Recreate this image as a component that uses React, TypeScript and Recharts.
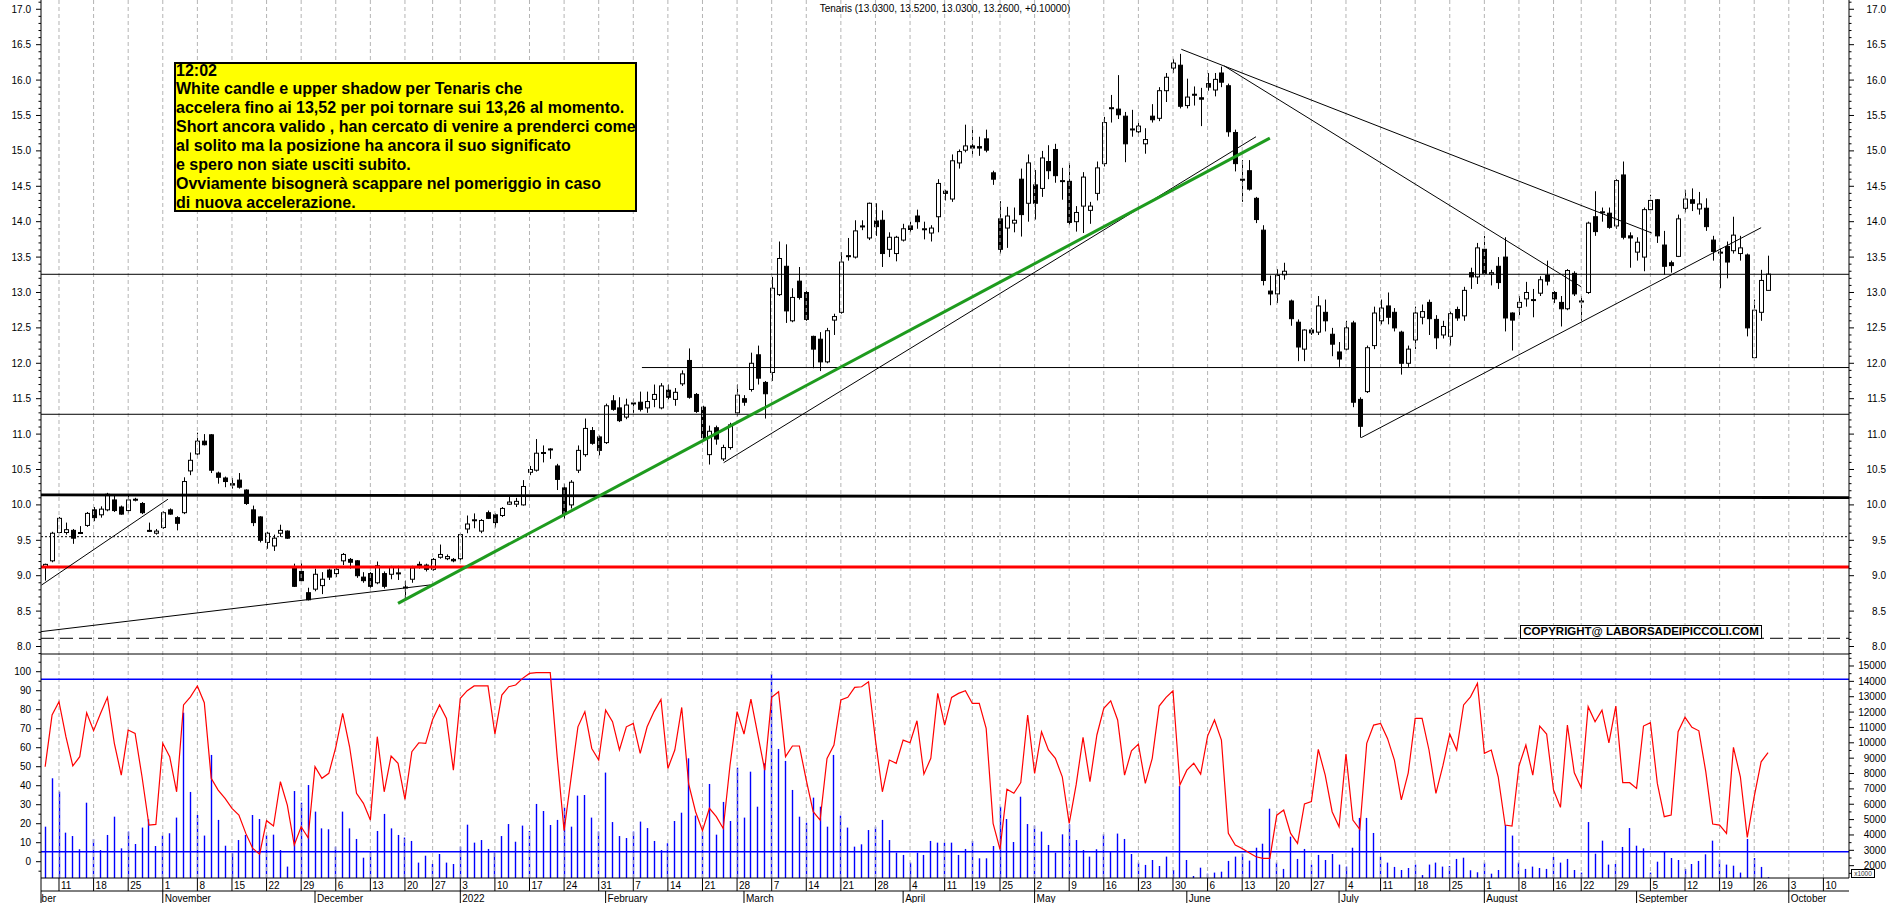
import React from "react";
import { ComposedChart, Bar, Line, XAxis, YAxis, ReferenceLine } from "recharts";

const FONT = '"Liberation Sans", Arial, Helvetica, sans-serif';

// one entry per trading day, 7 Oct 2021 .. 28 Sep 2022 : [open, high, low, close]
const candles: [number, number, number, number][] = [
  [9.12, 9.17, 8.93, 9.16], [9.21, 9.62, 9.19, 9.6], [9.61, 9.83, 9.6, 9.81], [9.61, 9.75, 9.58, 9.65], [9.64, 9.66, 9.45, 9.53],
  [9.6, 9.7, 9.59, 9.61], [9.71, 9.9, 9.69, 9.88], [9.93, 9.97, 9.77, 9.82], [9.86, 9.98, 9.82, 9.94], [9.93, 10.17, 9.91, 10.15],
  [10.07, 10.15, 9.9, 9.92], [9.97, 9.99, 9.86, 9.87], [9.92, 10.15, 9.88, 10.07], [10.07, 10.1, 10.05, 10.08], [10.02, 10.04, 9.87, 9.89],
  [9.64, 9.75, 9.62, 9.63], [9.6, 9.66, 9.58, 9.63], [9.68, 9.91, 9.66, 9.89], [9.93, 9.95, 9.86, 9.87], [9.82, 9.84, 9.64, 9.74],
  [9.89, 10.39, 9.87, 10.33], [10.48, 10.74, 10.42, 10.63], [10.72, 11.02, 10.66, 10.9], [10.9, 11.0, 10.84, 10.85], [10.99, 11.0, 10.45, 10.49],
  [10.45, 10.47, 10.3, 10.39], [10.38, 10.4, 10.25, 10.33], [10.3, 10.38, 10.23, 10.28], [10.35, 10.45, 10.23, 10.25], [10.21, 10.22, 10.0, 10.02],
  [9.93, 9.99, 9.7, 9.75], [9.83, 9.84, 9.47, 9.5], [9.47, 9.62, 9.38, 9.6], [9.42, 9.58, 9.35, 9.53], [9.6, 9.72, 9.55, 9.64],
  [9.63, 9.64, 9.52, 9.53], [9.12, 9.17, 8.84, 8.85], [9.06, 9.18, 8.92, 8.93], [8.76, 8.83, 8.65, 8.66], [8.81, 9.1, 8.78, 9.02],
  [8.86, 9.05, 8.74, 8.95], [9.08, 9.1, 8.94, 8.98], [9.03, 9.11, 8.98, 9.09], [9.21, 9.32, 9.15, 9.3], [9.23, 9.25, 9.1, 9.19],
  [9.21, 9.22, 8.97, 9.0], [8.98, 9.05, 8.9, 8.93], [9.03, 9.05, 8.83, 8.85], [8.9, 9.2, 8.88, 9.14], [9.03, 9.06, 8.82, 8.85],
  [9.02, 9.14, 8.95, 9.12], [9.03, 9.14, 8.94, 9.04], [8.83, 8.93, 8.66, 8.84], [8.95, 9.14, 8.9, 9.11], [9.16, 9.2, 9.1, 9.12],
  [9.15, 9.17, 9.06, 9.09], [9.09, 9.25, 9.07, 9.23], [9.26, 9.44, 9.24, 9.3], [9.24, 9.3, 9.22, 9.27], [9.23, 9.25, 9.19, 9.21],
  [9.24, 9.6, 9.2, 9.58], [9.66, 9.85, 9.6, 9.73], [9.78, 9.88, 9.67, 9.79], [9.63, 9.8, 9.6, 9.78], [9.89, 9.92, 9.8, 9.81],
  [9.86, 9.88, 9.68, 9.75], [9.85, 9.97, 9.83, 9.95], [10.01, 10.14, 10.0, 10.04], [10.01, 10.1, 9.97, 10.05], [10.0, 10.35, 9.99, 10.26],
  [10.46, 10.55, 10.42, 10.5], [10.49, 10.93, 10.47, 10.73], [10.73, 10.84, 10.6, 10.74], [10.78, 10.8, 10.65, 10.79], [10.55, 10.58, 10.21, 10.36],
  [10.24, 10.3, 9.8, 9.87], [10.0, 10.35, 9.95, 10.32], [10.49, 10.84, 10.45, 10.77], [10.71, 11.22, 10.68, 11.08], [11.05, 11.1, 10.85, 10.87],
  [10.96, 10.98, 10.7, 10.77], [10.88, 11.43, 10.86, 11.4], [11.47, 11.55, 11.33, 11.35], [11.37, 11.52, 11.17, 11.19], [11.24, 11.5, 11.21, 11.41],
  [11.43, 11.5, 11.3, 11.44], [11.45, 11.6, 11.32, 11.35], [11.37, 11.6, 11.3, 11.46], [11.49, 11.7, 11.38, 11.56], [11.37, 11.72, 11.35, 11.68],
  [11.62, 11.7, 11.49, 11.52], [11.49, 11.65, 11.4, 11.59], [11.71, 11.9, 11.68, 11.85], [12.04, 12.21, 11.5, 11.52], [11.56, 11.58, 11.3, 11.32],
  [11.38, 11.4, 10.92, 10.95], [10.71, 11.12, 10.57, 11.04], [11.09, 11.12, 10.85, 10.93], [10.65, 10.85, 10.62, 10.81], [10.81, 11.16, 10.78, 11.13],
  [11.3, 11.7, 11.25, 11.55], [11.5, 11.55, 11.4, 11.45], [11.63, 12.15, 11.6, 12.0], [12.12, 12.25, 11.7, 11.79], [11.73, 11.75, 11.22, 11.57],
  [11.87, 13.22, 11.75, 13.06], [12.97, 13.72, 12.95, 13.48], [13.37, 13.68, 12.57, 12.74], [12.6, 13.06, 12.58, 12.93], [13.16, 13.36, 12.9, 12.93],
  [13.0, 13.02, 12.6, 12.62], [12.38, 12.39, 11.93, 12.2], [12.34, 12.44, 11.89, 12.02], [12.02, 12.5, 12.0, 12.46], [12.61, 12.7, 12.4, 12.66],
  [12.72, 13.57, 12.7, 13.43], [13.52, 13.77, 13.45, 13.51], [13.5, 14.02, 13.48, 13.87], [13.94, 14.02, 13.88, 13.93], [13.77, 14.27, 13.74, 14.26],
  [14.01, 14.26, 13.8, 13.93], [14.02, 14.16, 13.36, 13.55], [13.61, 13.85, 13.5, 13.78], [13.55, 13.8, 13.44, 13.78], [13.74, 13.97, 13.72, 13.9],
  [13.94, 14.0, 13.85, 13.89], [14.08, 14.17, 13.9, 14.0], [13.89, 14.0, 13.75, 13.9], [13.84, 13.95, 13.72, 13.91], [14.07, 14.6, 13.85, 14.54],
  [14.43, 14.45, 14.3, 14.4], [14.32, 14.95, 14.28, 14.86], [14.83, 15.02, 14.75, 14.99], [15.01, 15.37, 14.98, 15.07], [15.07, 15.35, 14.92, 15.04],
  [15.06, 15.2, 14.93, 15.04], [15.17, 15.3, 14.98, 15.01], [14.69, 14.72, 14.52, 14.6], [14.04, 14.29, 13.55, 13.61], [13.91, 14.21, 13.63, 14.08],
  [13.98, 14.2, 13.85, 14.02], [14.6, 14.75, 13.79, 14.1], [14.26, 14.95, 14.0, 14.83], [14.52, 14.73, 14.03, 14.26], [14.47, 15.0, 14.35, 14.9],
  [14.85, 15.08, 14.6, 14.72], [15.02, 15.1, 14.55, 14.65], [14.57, 14.76, 14.31, 14.58], [14.57, 14.83, 13.95, 13.99], [14.0, 14.22, 13.86, 14.13],
  [14.22, 14.7, 13.84, 14.63], [14.16, 14.28, 13.97, 14.22], [14.4, 14.85, 14.3, 14.76], [14.82, 15.48, 14.78, 15.4], [15.6, 15.79, 15.4, 15.61],
  [15.59, 16.07, 15.45, 15.51], [15.49, 15.55, 14.84, 15.1], [15.3, 15.58, 15.2, 15.31], [15.27, 15.42, 15.2, 15.35], [15.1, 15.32, 14.96, 15.16],
  [15.49, 15.66, 15.4, 15.44], [15.46, 15.9, 15.42, 15.85], [15.85, 16.1, 15.69, 16.04], [16.17, 16.3, 16.1, 16.24], [16.21, 16.37, 15.6, 15.63],
  [15.64, 16.02, 15.6, 15.76], [15.8, 15.91, 15.64, 15.79], [15.75, 15.89, 15.35, 15.73], [15.95, 16.1, 15.85, 15.9], [15.86, 16.1, 15.77, 16.01],
  [16.1, 16.19, 15.9, 15.97], [15.92, 15.95, 15.2, 15.27], [15.26, 15.3, 14.71, 14.82], [14.6, 14.87, 14.28, 14.59], [14.72, 14.87, 14.44, 14.46],
  [14.33, 14.35, 13.98, 14.03], [13.88, 13.95, 13.1, 13.17], [13.02, 13.24, 12.82, 12.98], [12.98, 13.33, 12.85, 13.24], [13.25, 13.42, 13.18, 13.3],
  [12.88, 12.9, 12.53, 12.63], [12.58, 12.62, 12.03, 12.23], [12.2, 12.48, 12.03, 12.47], [12.47, 12.5, 12.4, 12.43], [12.44, 12.95, 12.4, 12.81],
  [12.72, 12.9, 12.45, 12.6], [12.41, 12.5, 12.1, 12.27], [12.16, 12.3, 11.95, 12.06], [12.2, 12.6, 12.18, 12.5], [12.57, 12.6, 11.38, 11.45],
  [11.49, 11.52, 10.95, 11.11], [11.6, 12.25, 11.58, 12.22], [12.25, 12.8, 12.2, 12.71], [12.6, 12.9, 12.55, 12.78], [12.81, 13.0, 12.55, 12.65],
  [12.72, 12.78, 12.45, 12.5], [12.44, 12.46, 11.84, 12.0], [12.0, 12.25, 11.95, 12.2], [12.33, 12.8, 12.2, 12.71], [12.65, 12.83, 12.55, 12.73],
  [12.86, 12.9, 12.4, 12.63], [12.62, 12.68, 12.2, 12.36], [12.4, 12.6, 12.35, 12.52], [12.38, 12.73, 12.25, 12.7], [12.76, 12.8, 12.6, 12.64],
  [12.67, 13.08, 12.6, 13.03], [13.28, 13.35, 13.05, 13.22], [13.22, 13.7, 13.12, 13.63], [13.61, 13.8, 13.25, 13.27], [13.26, 13.32, 13.1, 13.28],
  [13.37, 13.5, 13.05, 13.14], [13.5, 13.78, 12.45, 12.64], [12.71, 12.72, 12.18, 12.61], [12.79, 12.95, 12.68, 12.86], [12.91, 13.15, 12.8, 13.0],
  [12.89, 13.05, 12.65, 12.9], [12.99, 13.23, 12.95, 13.18], [13.24, 13.45, 13.1, 13.16], [13.0, 13.02, 12.85, 12.91], [12.86, 12.95, 12.52, 12.77],
  [12.77, 13.33, 12.75, 13.31], [13.27, 13.3, 12.95, 12.98], [12.88, 12.95, 12.6, 12.87], [13.0, 14.0, 12.98, 13.98], [14.07, 14.43, 13.8, 13.86],
  [14.13, 14.2, 14.0, 14.14], [14.12, 14.2, 13.9, 13.92], [13.94, 14.6, 13.9, 14.58], [14.66, 14.85, 13.75, 13.78], [13.8, 13.85, 13.35, 13.77],
  [13.57, 13.78, 13.45, 13.71], [13.5, 14.2, 13.3, 14.17], [14.17, 14.38, 14.15, 14.3], [14.31, 14.32, 13.7, 13.8], [13.67, 13.87, 13.25, 13.37],
  [13.42, 13.45, 13.28, 13.38], [13.51, 14.1, 13.5, 14.04], [14.19, 14.45, 14.13, 14.32], [14.31, 14.47, 14.15, 14.26], [14.18, 14.42, 14.1, 14.25],
  [14.19, 14.33, 13.87, 13.93], [13.74, 13.8, 13.45, 13.58], [13.57, 13.62, 13.06, 13.56], [13.65, 13.72, 13.2, 13.43], [13.59, 14.07, 13.55, 13.81],
  [13.55, 13.8, 13.45, 13.63], [13.53, 13.55, 12.38, 12.5], [12.08, 12.9, 12.07, 12.75], [12.72, 13.32, 12.6, 13.17], [13.03, 13.52, 13.03, 13.26],
];

// red oscillator in the lower panel (0..100)
const oscillator: number[] = [
  50, 77.2, 84.2, 65.8, 50.4, 55.3, 78.4, 69, 78, 86.5, 62.3, 45.6, 69.3, 67.5, 44.7, 19.3, 19.6, 62.3, 55.3, 36.8,
  82.5, 86.8, 92.5, 83.7, 43.9, 37.7, 33.3, 28.1, 24.6, 14.9, 7, 4, 21.6, 18.8, 42.1, 29.8, 8.8, 18.4, 12.6, 50,
  43.9, 46.5, 60.2, 78.1, 60.5, 36, 30.7, 21.9, 65.8, 36.8, 55.6, 51.8, 32.8, 57.9, 62.6, 62.3, 74.9, 82.5, 75.4, 48.2,
  86, 90, 92.5, 92.5, 92.5, 67.2, 87.7, 92.1, 93, 96.5, 99.1, 99.5, 99.5, 99.5, 55.3, 16.3, 43.9, 71, 79, 59.6,
  53.5, 79.8, 73.7, 58.8, 71, 72.8, 57,
  71, 79, 85.4, 49.1, 58.8, 81.2, 40.9, 26.3, 16.3, 28.1,
  23.7, 17.5, 51.4, 79, 67.2, 85.6, 66.7, 48.2, 86.5, 89.5, 55.3, 60.9, 60.9, 43, 26.3, 21.9, 54.4, 61.4, 85.1, 86.5,
  91.8, 92.1, 94.7, 64, 36.8, 53.5, 51.8, 64, 62.6, 74.2, 46.1, 54.4, 88.6, 71.9, 86.5, 88.6, 90, 83.3, 83.3, 70.2,
  20.2, 6.5, 38.1, 36, 41.6, 77.2, 46.5, 68.4, 58.8, 54.4, 44.7, 20.2, 40.4, 65.4, 42.1, 66.7, 80.7, 84.7, 74.6, 45.6,
  58.4, 61.9, 41.2, 54.4, 81.9, 86.5, 90, 40.4, 48.2, 51.8, 46.1, 66.1, 74.6, 64, 14.9, 8.8, 7, 4.7, 2.6, 1.8,
  1.8, 24.5,
  27.2, 14.9, 9.6, 30.4, 31.6, 59.1, 45.6, 26.3, 18.4, 56.7, 21.9, 17, 62.3, 71.9, 72.8, 64.9, 53.5, 32.5, 46.8, 75.4,
  75.4, 58.8, 36, 50.4, 67.2, 58.8, 82.5, 86.8, 93.9, 57, 58.8, 44.7, 19.3, 18.8, 50.4, 61.4, 45.6, 71.4, 67.2, 37.7,
  28.6, 71.9, 46.8, 38.9, 81.6, 73.7, 79.8, 62.6, 81.9, 41.6, 41.6, 38.6, 71.4, 73.2, 41.2, 23.7, 24.6, 68.4, 76, 70.7,
  68.9, 47.4, 19.8, 19.3, 14.9, 60.2, 44.7, 12.8, 34.2, 52.6, 57.4,
];

// volume, right axis units (x1000)
const volume: number[] = [
  4540, 7690, 6820, 4150, 3930, 3070, 6100, 3740, 3020, 4000, 5190, 3130, 4220, 3410, 4480, 5020, 3280, 3960, 4110, 5130,
  11960, 6800, 5300, 3960, 9210, 4980, 3300, 2810, 3670, 4000, 5300, 5040, 4000, 4020, 3020, 1940, 6860, 6100, 7250, 5520,
  4430, 4370, 3240, 5520, 4430, 3740, 2520, 2910, 4260, 5370, 4430, 4000, 3830, 3610, 2200, 2650, 2110, 2760, 2200, 2110,
  3240, 4670, 3500, 3670, 3090, 2850, 3930, 4710, 3560, 4610, 4260, 6020, 5560, 4650, 4980, 5780, 4540, 6560, 6600, 5130,
  4220, 8060, 4840, 3930, 3800, 4220, 4870,
  4450, 3610, 3020, 3460, 4910, 5450, 8990, 5260, 4220, 7320,
  4020, 6150, 4910, 8380, 5130, 8120, 5840, 8660, 14480, 9600, 8820, 6930, 5190, 4800, 6430, 5840, 4540, 9210, 5260, 4480,
  3240, 3390, 4320, 4540, 4980, 3670, 2850, 2700, 2200, 2850, 2700, 3610, 3500, 3500, 3500, 2700, 3090, 3610, 2480, 2480,
  3280, 5840, 5040, 3540, 6490, 4710, 4610, 4220, 3350, 2850, 4040, 4690, 3670, 3020, 2590, 3070, 4040, 2910, 4090, 3740,
  2760, 2200, 2050, 2370, 1980, 2590, 1720, 7190, 2370, 1330, 1870, 1480, 1550, 1610, 2310, 2590, 2760, 2330, 3170, 3430,
  5710, 2200,
  1790, 3890, 2440, 3090, 2070, 2700, 2370, 2760, 2070, 1940, 3170, 5110, 5110, 4130, 2590, 2200, 1920, 1720, 1850, 2070,
  1390, 2070, 2200, 1940, 1980, 2440, 2520, 1700, 1570, 2200, 1480, 1720, 4650, 3960, 2200, 1790, 1940, 1850, 1790, 2570,
  2200, 2440, 1720, 1550, 4840, 2780, 3630, 2070, 2110, 3220, 4450, 3300, 3130, 1550, 2260, 2910, 2500, 2370, 1790, 2110,
  2310, 2740, 3630, 2390, 2070, 2000, 1550, 3740, 2500, 1920, 1250,
];

// first trading day of each week (grid + day labels)
const weekStarts = [2, 7, 12, 17, 22, 27, 32, 37, 42, 47, 52, 56, 60, 65, 70, 75, 80, 85, 90, 95, 100, 105, 110, 115, 120, 125,
  130, 134, 138, 143, 148, 153, 158, 163, 168, 173, 178, 183, 188, 193, 198, 203, 208, 213, 218, 222, 227, 232, 237, 242, 247, 252, 257];
const weekLabels = ["11", "18", "25", "1", "8", "15", "22", "29", "6", "13", "20", "27", "3", "10", "17", "24", "31", "7", "14", "21", "28",
  "7", "14", "21", "28", "4", "11", "19", "25", "2", "9", "16", "23", "30", "6", "13", "20", "27", "4", "11", "18", "25", "1", "8", "16",
  "22", "29", "5", "12", "19", "26", "3", "10"];
const monthStarts = [-0.6, 17, 39, 60, 81, 101, 124, 143, 165, 187, 208, 230, 252];
const monthLabels = ["October", "November", "December", "2022", "February", "March", "April", "May", "June", "July", "August", "September", "October"];

// horizontal levels drawn on the price panel
const levelLine = 13.257;
const upperSupport = 11.94;
const lowerSupport = 11.28;
const dottedLevel = 9.551;
const redLevel = 9.123;
const dashedLevel = 8.116;

// trend lines, in [day index, price]
const thinTrends: [number, number, number, number][] = [
  [-0.52, 8.868, 17.75, 10.08],
  [-0.6, 8.21, 55.7, 8.87],
  [98.06, 10.596, 175.0, 15.2],
  [164.2, 16.435, 232.2, 13.84],
  [170.4, 16.2, 222.0, 13.08],
  [190.2, 10.95, 248.0, 13.915],
];
const greenTrend: [number, number, number, number] = [51.0, 8.61, 177.0, 15.18];
const thickLevel: [number, number, number, number] = [-0.6, 10.141, 260.7, 10.103];

const noteLines = [
  "12:02",
  "White candle e upper shadow per Tenaris che",
  "accelera fino ai 13,52 per poi tornare sui 13,26 al momento.",
  "Short ancora valido , han cercato di venire a prenderci come",
  "al solito ma la posizione ha ancora il suo significato",
  "e spero non siate usciti subito.",
  "Ovviamente bisognerà scappare nel pomeriggio in caso",
  "di nuova accelerazione.",
];

const X_DOMAIN: [number, number] = [-0.6, 260.7];
const PRICE_DOMAIN: [number, number] = [7.88, 17.131];
const OSC_DOMAIN: [number, number] = [-8.58, 108.8];
const VOL_DOMAIN: [number, number] = [1198, 15716];

const priceTicks: number[] = [];
for (let k = 79; k <= 171; k++) priceTicks.push(k / 10);
const oscTicks: number[] = [];
for (let k = -5; k <= 105; k += 5) oscTicks.push(k);
const volTicks: number[] = [];
for (let k = 1500; k <= 15500; k += 500) volTicks.push(k);

const priceRows = candles.map(([o, h, l, c], i) => ({ i, o, h, l, c }));
const lowerRows = oscillator.map((v, i) => ({ i, osc: v, vol: volume[i] }));

const Candle = (props: any) => {
  const { x, y, width, height, payload } = props;
  if (x == null || y == null) return null;
  const top = Math.min(y, y + height);
  const full = Math.abs(height);
  const { o, h, l, c } = payload;
  const span = h - l || 1;
  const py = (p: number) => top + ((h - p) / span) * full;
  const cx = Math.round(x + width / 2) + 0.5;
  const b1 = py(Math.max(o, c));
  const b2 = py(Math.min(o, c));
  const up = c >= o;
  return (
    <g>
      <line x1={cx} x2={cx} y1={top} y2={top + full} stroke="#000" strokeWidth={1} />
      <rect x={cx - 2} y={b1} width={4} height={Math.max(b2 - b1, 1)} fill={up ? "#fff" : "#000"} stroke="#000" strokeWidth={1} />
    </g>
  );
};

const VolBar = (props: any) => {
  const { x, y, width, height } = props;
  if (x == null || y == null) return null;
  const cx = Math.round(x + width / 2) + 0.5;
  return <line x1={cx} x2={cx} y1={y} y2={y + height} stroke="#0000ff" strokeWidth={1.4} />;
};

const makeYTick = (side: "left" | "right", isMajor: (v: number) => boolean, fmt: (v: number) => string, minor: number) => (props: any) => {
  const { x, y, payload } = props;
  const v = payload.value;
  const major = isMajor(v);
  const len = major ? 5 : minor;
  const dir = side === "left" ? -1 : 1;
  return (
    <g>
      <line x1={x} x2={x + dir * len} y1={y} y2={y} stroke="#000" strokeWidth={1} />
      {major && (
        <text x={side === "left" ? x - 10 : 1886} y={y} dy={3.5} textAnchor="end" fontSize={10} fill="#000">
          {fmt(v)}
        </text>
      )}
    </g>
  );
};

const priceMajor = (v: number) => Math.abs(v * 2 - Math.round(v * 2)) < 1e-6 && v >= 7.99 && v <= 17.01;
const PriceTickL = makeYTick("left", priceMajor, (v) => v.toFixed(1), 2.5);
const PriceTickR = makeYTick("right", priceMajor, (v) => v.toFixed(1), 2.5);
const OscTick = makeYTick("left", (v) => v % 10 === 0 && v >= 0 && v <= 100, (v) => String(v), 2.5);
const VolTick = makeYTick("right", (v) => v % 1000 === 0 && v >= 2000 && v <= 15000, (v) => String(v), 2.5);

const DayTick = (props: any) => {
  const { x, y, payload } = props;
  const k = weekStarts.indexOf(payload.value);
  return (
    <g>
      <line x1={x} x2={x} y1={y} y2={y + 13} stroke="#000" strokeWidth={1} />
      <text x={x + 2} y={y + 10.5} fontSize={10} fill="#000">
        {weekLabels[k]}
      </text>
    </g>
  );
};

const MonthTick = (props: any) => {
  const { x, y, payload } = props;
  const k = monthStarts.indexOf(payload.value);
  if (k === 0) {
    return (
      <g>
        <defs>
          <clipPath id="firstMonthClip">
            <rect x={x} y={y} width={60} height={14} />
          </clipPath>
        </defs>
        <line x1={x} x2={x} y1={y - 13} y2={y + 12} stroke="#000" strokeWidth={1} />
        <g clipPath="url(#firstMonthClip)">
          <text x={x - 20.5} y={y + 10.5} fontSize={10} fill="#000">
            {monthLabels[k]}
          </text>
        </g>
      </g>
    );
  }
  return (
    <g>
      <line x1={x} x2={x} y1={y} y2={y + 12} stroke="#000" strokeWidth={1} />
      <text x={x + 2} y={y + 10.5} fontSize={10} fill="#000">
        {monthLabels[k]}
      </text>
    </g>
  );
};

const gridProps = { stroke: "#b4b4b4", strokeDasharray: "4 3", strokeWidth: 1 };

export default function App() {
  return (
    <div style={{ position: "absolute", left: 0, top: 0, width: 1890, height: 903, background: "#fff", fontFamily: FONT, overflow: "hidden" }}>
      <div style={{ position: "absolute", left: 0, top: 0 }}>
        <ComposedChart width={1890} height={655} data={priceRows} margin={{ top: 0, right: 0, bottom: 0, left: 0 }}>
          <XAxis xAxisId="x" dataKey="i" type="number" domain={X_DOMAIN} allowDataOverflow hide />
          <YAxis
            yAxisId="p"
            orientation="left"
            width={41}
            type="number"
            domain={PRICE_DOMAIN}
            allowDataOverflow
            ticks={priceTicks}
            interval={0}
            tickSize={0}
            tickMargin={0}
            tickLine={false}
            axisLine={{ stroke: "#000" }}
            tick={PriceTickL}
          />
          <YAxis
            yAxisId="pr"
            orientation="right"
            width={41}
            type="number"
            domain={PRICE_DOMAIN}
            allowDataOverflow
            ticks={priceTicks}
            interval={0}
            tickSize={0}
            tickMargin={0}
            tickLine={false}
            axisLine={{ stroke: "#000" }}
            tick={PriceTickR}
          />
          {weekStarts.map((w) => (
            <ReferenceLine key={"g" + w} xAxisId="x" yAxisId="p" x={w} {...gridProps} />
          ))}
          <ReferenceLine xAxisId="x" yAxisId="p" y={levelLine} stroke="#000" strokeWidth={1} />
          <ReferenceLine
            xAxisId="x"
            yAxisId="p"
            segment={[{ x: 86.25, y: upperSupport }, { x: 260.7, y: upperSupport }]}
            stroke="#000"
            strokeWidth={1}
            ifOverflow="hidden"
          />
          <ReferenceLine xAxisId="x" yAxisId="p" y={lowerSupport} stroke="#000" strokeWidth={1} />
          <ReferenceLine
            xAxisId="x"
            yAxisId="p"
            segment={[{ x: thickLevel[0], y: thickLevel[1] }, { x: thickLevel[2], y: thickLevel[3] }]}
            stroke="#000"
            strokeWidth={2.8}
            ifOverflow="hidden"
          />
          <ReferenceLine xAxisId="x" yAxisId="p" y={dottedLevel} stroke="#000" strokeWidth={1} strokeDasharray="2 2" />
          <ReferenceLine xAxisId="x" yAxisId="p" y={redLevel} stroke="#ff0000" strokeWidth={3} />
          <ReferenceLine xAxisId="x" yAxisId="p" y={dashedLevel} stroke="#000" strokeWidth={1} strokeDasharray="13 6" />
          <ReferenceLine xAxisId="x" yAxisId="p" y={7.894} stroke="#000" strokeWidth={1} />
          <Bar
            xAxisId="x"
            yAxisId="p"
            dataKey={(d: any) => [d.l, d.h]}
            barSize={5}
            shape={Candle}
            isAnimationActive={false}
          />
          {thinTrends.map((t, k) => (
            <ReferenceLine
              key={"t" + k}
              xAxisId="x"
              yAxisId="p"
              segment={[{ x: t[0], y: t[1] }, { x: t[2], y: t[3] }]}
              stroke="#000"
              strokeWidth={1}
              ifOverflow="hidden"
            />
          ))}
          <ReferenceLine
            xAxisId="x"
            yAxisId="p"
            segment={[{ x: greenTrend[0], y: greenTrend[1] }, { x: greenTrend[2], y: greenTrend[3] }]}
            stroke="#1e9b1e"
            strokeWidth={3}
            ifOverflow="hidden"
          />
        </ComposedChart>
      </div>

      <div style={{ position: "absolute", left: 0, top: 655 }}>
        <ComposedChart width={1890} height={248} data={lowerRows} margin={{ top: 0, right: 0, bottom: 0, left: 0 }}>
          <XAxis
            xAxisId="d"
            dataKey="i"
            type="number"
            domain={X_DOMAIN}
            allowDataOverflow
            ticks={weekStarts}
            interval={0}
            height={13}
            tickSize={0}
            tickMargin={0}
            tickLine={false}
            axisLine={{ stroke: "#000" }}
            tick={DayTick}
          />
          <XAxis
            xAxisId="m"
            dataKey="i"
            type="number"
            domain={X_DOMAIN}
            allowDataOverflow
            ticks={monthStarts}
            interval={0}
            height={12}
            tickSize={0}
            tickMargin={0}
            tickLine={false}
            axisLine={{ stroke: "#000" }}
            tick={MonthTick}
          />
          <YAxis
            yAxisId="l"
            orientation="left"
            width={41}
            type="number"
            domain={OSC_DOMAIN}
            allowDataOverflow
            ticks={oscTicks}
            interval={0}
            tickSize={0}
            tickMargin={0}
            tickLine={false}
            axisLine={{ stroke: "#000" }}
            tick={OscTick}
          />
          <YAxis
            yAxisId="v"
            orientation="right"
            width={41}
            type="number"
            domain={VOL_DOMAIN}
            allowDataOverflow
            ticks={volTicks}
            interval={0}
            tickSize={0}
            tickMargin={0}
            tickLine={false}
            axisLine={{ stroke: "#000" }}
            tick={VolTick}
          />
          {weekStarts.map((w) => (
            <ReferenceLine key={"lg" + w} xAxisId="d" yAxisId="l" x={w} {...gridProps} />
          ))}
          <Bar xAxisId="d" yAxisId="v" dataKey="vol" barSize={2} shape={VolBar} isAnimationActive={false} />
          <ReferenceLine xAxisId="d" yAxisId="l" y={96} stroke="#0000ff" strokeWidth={1.5} />
          <ReferenceLine xAxisId="d" yAxisId="l" y={5.25} stroke="#0000ff" strokeWidth={1.5} />
          <Line
            xAxisId="d"
            yAxisId="l"
            type="linear"
            dataKey="osc"
            stroke="#ff0000"
            strokeWidth={1.2}
            dot={false}
            activeDot={false}
            isAnimationActive={false}
          />
        </ComposedChart>
      </div>

      <div style={{ position: "absolute", left: 0, top: 3, width: 1890, textAlign: "center", fontSize: 10, lineHeight: "11px", color: "#000" }}>
        Tenaris (13.0300, 13.5200, 13.0300, 13.2600, +0.10000)
      </div>

      <div
        style={{
          position: "absolute",
          left: 174,
          top: 62,
          width: 463,
          height: 150,
          boxSizing: "border-box",
          background: "#ffff00",
          border: "2px solid #000",
        }}
      />
      <div style={{ position: "absolute", left: 176, top: 61.5, fontSize: 16, fontWeight: 700, lineHeight: "18.9px", color: "#000", whiteSpace: "nowrap" }}>
        {noteLines.map((t, k) => (
          <div key={k}>{t}</div>
        ))}
      </div>

      <div
        style={{
          position: "absolute",
          left: 1520,
          top: 625,
          width: 242,
          height: 14,
          boxSizing: "border-box",
          background: "#fff",
          border: "1.5px solid #000",
          fontSize: 11.5,
          fontWeight: 700,
          lineHeight: "11px",
          textAlign: "center",
          whiteSpace: "nowrap",
          color: "#000",
        }}
      >
        COPYRIGHT@ LABORSADEIPICCOLI.COM
      </div>

      <div
        style={{
          position: "absolute",
          left: 1851,
          top: 869,
          width: 24,
          height: 9,
          boxSizing: "border-box",
          background: "#fff",
          border: "1px solid #000",
          fontSize: 6.5,
          lineHeight: "7px",
          textAlign: "center",
          color: "#333",
        }}
      >
        x1000
      </div>
    </div>
  );
}
